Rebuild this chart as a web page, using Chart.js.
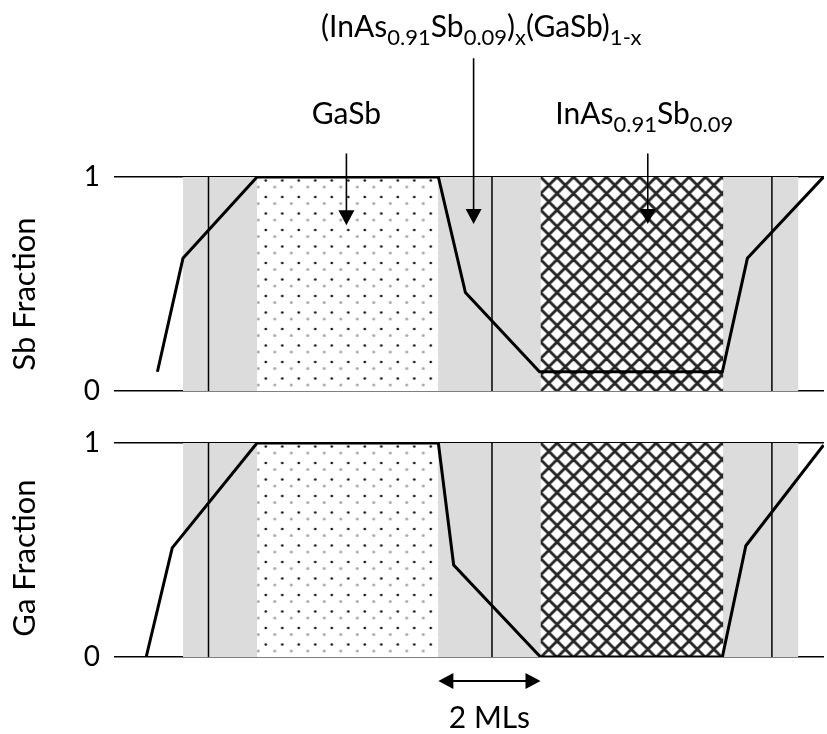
<!DOCTYPE html>
<html>
<head>
<meta charset="utf-8">
<script src="https://cdn.jsdelivr.net/npm/chart.js@4"></script>
<style>
  html, body { margin: 0; padding: 0; background: #fff; }
  #wrap { position: relative; width: 827px; height: 734px; overflow: hidden; }
  #sbChart { position: absolute; left: 0; top: 0; }
  #gaChart { position: absolute; left: 0; top: 410px; }
</style>
</head>
<body>
<div id="wrap">
  <canvas id="sbChart" width="827" height="430"></canvas>
  <canvas id="gaChart" width="827" height="324"></canvas>
</div>
<script>
// ---- profile data (x in monolayers, y = fraction) ----
const sbX = [-5.5, -5.0, -3.55, 0.0, 0.53, 1.98, 5.56, 6.05, 7.54];
const sbY = [0.09, 0.62, 1.0, 1.0, 0.46, 0.09, 0.09, 0.62, 1.0];
const gaX = [-5.72, -5.21, -3.55, 0.0, 0.3, 2.0, 5.56, 6.02, 7.54];
const gaY = [0.0, 0.51, 1.0, 1.0, 0.43, 0.0, 0.0, 0.52, 0.99];

// layer boundaries (monolayers)
const interfaceBand = [-5.0, 7.05];
const gaSbLayer = [-3.55, 0.0];
const inAsSbLayer = [2.0, 5.58];
const interfaceLines = [-4.5, 1.05, 6.53];
const xRange = [-6.35, 7.55];

const yTickLabels = ['0', '1'];

// annotation placement (data units)
const layerArrows = [
  { x: -1.8, top: 1.11, tip: 0.775 },
  { x: 0.69, top: 1.555, tip: 0.78 },
  { x: 4.1,  top: 1.11, tip: 0.78 }
];
const gaSbLabel   = { x: -1.8, y: 1.25, parts: [['GaSb', 0]] };
const inAsSbLabel = { x: 4.03, y: 1.25, parts: [['InAs', 0], ['0.91', 1], ['Sb', 0], ['0.09', 1]] };
const mixLabel    = { x: 0.84, y: 1.652, parts: [['(InAs', 0], ['0.91', 1], ['Sb', 0], ['0.09', 1], [')', 0], ['x', 1], ['(GaSb)', 0], ['1-x', 1]] };
const mlSpan = { from: 0.0, to: 2.0, y: -0.112, labelY: -0.332, text: '2 MLs' };

const FONT = 'Lato, "Open Sans", sans-serif';
const MAIN = 30, SUB = 22, SUB_DROP = 8, TITLE = 31;

// ---- fill patterns ----
function dotPattern() {
  const c = document.createElement('canvas');
  c.width = 33; c.height = 33;
  const g = c.getContext('2d');
  g.fillStyle = '#fff'; g.fillRect(0, 0, 33, 33);
  const black = [[4, 4], [20.5, 4], [4, 20.5], [20.5, 20.5]];
  const grey = [[13, 10.5], [29.5, 10.5], [13, 27], [29.5, 27]];
  g.fillStyle = '#a8a8a8';
  grey.forEach(([x, y]) => { g.beginPath(); g.arc(x, y, 1.5, 0, Math.PI * 2); g.fill(); });
  g.fillStyle = '#111';
  black.forEach(([x, y]) => { g.beginPath(); g.arc(x, y, 1.3, 0, Math.PI * 2); g.fill(); });
  return g.createPattern(c, 'repeat');
}
function crossPattern() {
  const s = 33, a = 16.5;
  const c = document.createElement('canvas');
  c.width = s; c.height = s;
  const g = c.getContext('2d');
  g.fillStyle = '#fff'; g.fillRect(0, 0, s, s);
  g.strokeStyle = '#262626'; g.lineWidth = 2.9;
  for (let k = -3; k <= 3; k++) {
    g.beginPath(); g.moveTo(k * a - 5, -5); g.lineTo(k * a + s + 5, s + 5); g.stroke();
    g.beginPath(); g.moveTo(k * a + 5, -5); g.lineTo(k * a - s - 5, s + 5); g.stroke();
  }
  return g.createPattern(c, 'repeat');
}

function drawRich(ctx, parts, cx, baseline) {
  let total = 0;
  const items = parts.map(([t, sub]) => {
    ctx.font = (sub ? SUB : MAIN) + 'px ' + FONT;
    const w = ctx.measureText(t).width;
    total += w;
    return { t, sub, w };
  });
  let x = cx - total / 2;
  ctx.textAlign = 'left';
  ctx.textBaseline = 'alphabetic';
  ctx.fillStyle = '#000';
  items.forEach(it => {
    ctx.font = (it.sub ? SUB : MAIN) + 'px ' + FONT;
    ctx.fillText(it.t, x, baseline + (it.sub ? SUB_DROP : 0));
    x += it.w;
  });
}

function arrowHead(ctx, x, y, dx, dy) {
  // filled triangle pointing along (dx, dy) with its tip at (x, y)
  const len = 15, half = 8;
  const px = -dy, py = dx;
  ctx.beginPath();
  ctx.moveTo(x, y);
  ctx.lineTo(x - dx * len + px * half, y - dy * len + py * half);
  ctx.lineTo(x - dx * len - px * half, y - dy * len - py * half);
  ctx.closePath();
  ctx.fill();
}

function axisTitle(text, shift) {
  return {
    id: 'axisTitle',
    afterDraw(chart) {
      const { ctx, chartArea } = chart;
      ctx.save();
      ctx.translate(25, (chartArea.top + chartArea.bottom) / 2 + shift);
      ctx.rotate(-Math.PI / 2);
      ctx.font = TITLE + 'px ' + FONT;
      ctx.fillStyle = '#000';
      ctx.textAlign = 'center';
      ctx.textBaseline = 'middle';
      ctx.fillText(text, 0, 0);
      ctx.restore();
    }
  };
}

function pt(xs, ys) { return xs.map((x, i) => ({ x, y: ys[i] })); }
function band(r) { return [{ x: r[0], y: 1 }, { x: r[1], y: 1 }]; }

function makeChart(id, xs, ys, pad, plugins) {
  const dots = dotPattern();
  const hatch = crossPattern();
  const clear = 'rgba(0,0,0,0)';
  const datasets = [
    { data: pt(xs, ys), borderColor: '#000', borderWidth: 3, order: 0 },
    ...interfaceLines.map(x => ({ data: [{ x, y: 0 }, { x, y: 1 }], borderColor: '#000', borderWidth: 1.5, order: 1 })),
    { data: band(gaSbLayer), borderColor: clear, borderWidth: 1, fill: 'origin', backgroundColor: dots, order: 2 },
    { data: band(inAsSbLayer), borderColor: clear, borderWidth: 1, fill: 'origin', backgroundColor: hatch, order: 2 },
    { data: band(interfaceBand), borderColor: clear, borderWidth: 1, fill: 'origin', backgroundColor: '#dcdcdc', order: 3 }
  ];
  const anchor = {
    id: 'patternAnchor',
    beforeDatasetsDraw(chart) {
      const xs = chart.scales.x, top = chart.chartArea.top;
      dots.setTransform(new DOMMatrix([1, 0, 0, 1, xs.getPixelForValue(gaSbLayer[0]) + 4.7, top + 16]));
      hatch.setTransform(new DOMMatrix([1, 0, 0, 1, xs.getPixelForValue(inAsSbLayer[0]), top]));
    }
  };
  return new Chart(document.getElementById(id), {
    type: 'line',
    data: { datasets },
    options: {
      responsive: false,
      animation: false,
      events: [],
      devicePixelRatio: 1,
      layout: { padding: pad },
      elements: {
        point: { radius: 0 },
        line: { tension: 0, fill: false, borderCapStyle: 'butt', borderJoinStyle: 'miter' }
      },
      plugins: { legend: { display: false }, tooltip: { enabled: false } },
      scales: {
        x: { type: 'linear', min: xRange[0], max: xRange[1], display: false },
        y: {
          min: 0, max: 1, z: 1,
          afterFit(scale) { scale.width = 114; },
          border: { display: false },
          grid: { color: '#000', lineWidth: 1.6, drawTicks: false },
          ticks: {
            stepSize: 1, padding: 14, color: '#000',
            font: { family: FONT, size: 28 },
            callback: v => yTickLabels[v]
          }
        }
      }
    },
    plugins: [anchor, ...plugins]
  });
}

// top panel: Sb fraction with layer annotations
makeChart('sbChart', sbX, sbY, { top: 177, bottom: 39, left: 0, right: 3 }, [
  axisTitle('Sb Fraction', 10),
  {
    id: 'layerNotes',
    afterDraw(chart) {
      const { ctx, scales: { x, y } } = chart;
      ctx.save();
      ctx.strokeStyle = '#000'; ctx.fillStyle = '#000'; ctx.lineWidth = 1.6;
      layerArrows.forEach(a => {
        const px = x.getPixelForValue(a.x), t = y.getPixelForValue(a.top), tip = y.getPixelForValue(a.tip);
        ctx.beginPath(); ctx.moveTo(px, t); ctx.lineTo(px, tip - 10); ctx.stroke();
        arrowHead(ctx, px, tip, 0, 1);
      });
      [gaSbLabel, inAsSbLabel, mixLabel].forEach(l => drawRich(ctx, l.parts, x.getPixelForValue(l.x), y.getPixelForValue(l.y)));
      ctx.restore();
    }
  }
]);

// bottom panel: Ga fraction with monolayer scale bar
makeChart('gaChart', gaX, gaY, { top: 33, bottom: 77, left: 0, right: 3 }, [
  axisTitle('Ga Fraction', 8),
  {
    id: 'mlBar',
    afterDraw(chart) {
      const { ctx, scales: { x, y } } = chart;
      const x0 = x.getPixelForValue(mlSpan.from), x1 = x.getPixelForValue(mlSpan.to), py = y.getPixelForValue(mlSpan.y);
      ctx.save();
      ctx.strokeStyle = '#000'; ctx.fillStyle = '#000'; ctx.lineWidth = 2;
      ctx.beginPath(); ctx.moveTo(x0 + 10, py); ctx.lineTo(x1 - 10, py); ctx.stroke();
      arrowHead(ctx, x0, py, -1, 0);
      arrowHead(ctx, x1, py, 1, 0);
      drawRich(ctx, [[mlSpan.text, 0]], x.getPixelForValue((mlSpan.from + mlSpan.to) / 2), y.getPixelForValue(mlSpan.labelY));
      ctx.restore();
    }
  }
]);
</script>
</body>
</html>
